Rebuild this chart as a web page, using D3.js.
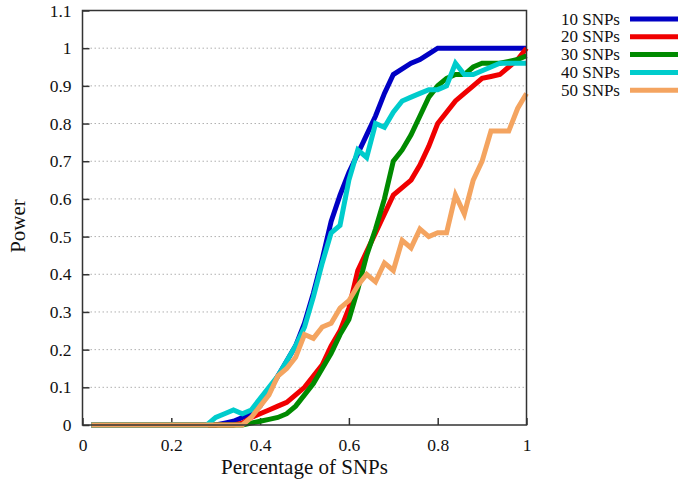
<!DOCTYPE html>
<html>
<head>
<meta charset="utf-8">
<script src="https://cdn.jsdelivr.net/npm/d3@7"></script>
<style>
  body { margin: 0; background: #fff; }
  svg { display: block; font-family: "Liberation Serif", "DejaVu Serif", serif; }
</style>
</head>
<body>
<script>
// x positions: fraction of SNPs
var pct = [0.02,0.04,0.06,0.08,0.10,0.12,0.14,0.16,0.18,0.20,
           0.22,0.24,0.26,0.28,0.30,0.32,0.34,0.36,0.38,0.40,
           0.42,0.44,0.46,0.48,0.50,0.52,0.54,0.56,0.58,0.60,
           0.62,0.64,0.66,0.68,0.70,0.72,0.74,0.76,0.78,0.80,
           0.82,0.84,0.86,0.88,0.90,0.92,0.94,0.96,0.98,1.00];

var snps10 = [0,0,0,0,0,0,0,0,0,0,0,0,0,0,0,
  0.005,0.01,0.02,0.03,0.05,0.09,0.13,0.17,0.21,0.27,0.35,0.44,0.54,0.61,0.67,
  0.72,0.77,0.82,0.88,0.93,0.945,0.96,0.97,0.985,
  1,1,1,1,1,1,1,1,1,1,1];
var snps20 = [0,0,0,0,0,0,0,0,0,0,0,0,0,0,0,0,0,
  0.005,0.02,0.03,0.04,0.05,0.06,0.08,0.10,0.13,0.16,0.21,0.25,0.31,
  0.41,0.46,0.51,0.56,0.61,0.63,0.65,0.69,0.74,0.80,
  0.83,0.86,0.88,0.90,0.92,0.925,0.93,0.95,0.97,1.0];
var snps30 = [0,0,0,0,0,0,0,0,0,0,0,0,0,0,0,0,0,0,
  0.005,0.01,0.015,0.02,0.03,0.05,0.08,0.11,0.15,0.19,0.24,0.28,
  0.36,0.45,0.52,0.60,0.70,0.73,0.77,0.82,0.87,0.90,
  0.92,0.93,0.93,0.95,0.96,0.96,0.96,0.965,0.97,0.98];
var snps40 = [0,0,0,0,0,0,0,0,0,0,0,0,0,0,
  0.02,0.03,0.04,0.03,0.04,0.07,0.10,0.13,0.17,0.21,0.26,0.34,0.43,0.51,0.53,0.65,
  0.73,0.71,0.80,0.79,0.83,0.86,0.87,0.88,0.89,0.89,
  0.90,0.96,0.93,0.93,0.94,0.95,0.96,0.96,0.96,0.96];
var snps50 = [0,0,0,0,0,0,0,0,0,0,0,0,0,0,0,0,0,0,
  0.02,0.05,0.08,0.13,0.15,0.18,0.24,0.23,0.26,0.27,0.31,0.33,
  0.37,0.40,0.38,0.43,0.41,0.49,0.47,0.52,0.50,0.51,
  0.51,0.61,0.56,0.65,0.70,0.78,0.78,0.78,0.84,0.88];

var seriesNames = ["10 SNPs", "20 SNPs", "30 SNPs", "40 SNPs", "50 SNPs"];
var seriesValues = [snps10, snps20, snps30, snps40, snps50];
var seriesColors = ["#0000c4", "#f00000", "#008a00", "#00cccc", "#f4a460"];

var xTicks = [0, 0.2, 0.4, 0.6, 0.8, 1];
var yTicks = [0, 0.1, 0.2, 0.3, 0.4, 0.5, 0.6, 0.7, 0.8, 0.9, 1, 1.1];

var width = 685, height = 486;

var x = d3.scaleLinear().domain([0, 1]).range([82.5, 526.5]);
var y = d3.scaleLinear().domain([0, 1.1]).range([425, 10.5]);

var svg = d3.select("body").append("svg")
  .attr("width", width)
  .attr("height", height);

// grid
svg.append("g")
  .selectAll("line")
  .data(yTicks.filter(function (d) { return d > 0 && d < 1.05; }))
  .enter().append("line")
  .attr("x1", x(0)).attr("x2", x(1))
  .attr("y1", function (d) { return y(d); })
  .attr("y2", function (d) { return y(d); })
  .attr("stroke", "#b0b0b0")
  .attr("stroke-width", 1)
  .attr("stroke-dasharray", "1.5,2.5");

// axes
var fmt = function (d) { return String(+d.toFixed(1)); };

var yAxis = svg.append("g")
  .attr("transform", "translate(" + x(0) + ",0)")
  .call(d3.axisLeft(y).tickValues(yTicks).tickFormat(fmt)
    .tickSizeInner(-7).tickSizeOuter(0).tickPadding(11));

var xAxis = svg.append("g")
  .attr("transform", "translate(0," + y(0) + ")")
  .call(d3.axisBottom(x).tickValues(xTicks).tickFormat(fmt)
    .tickSizeInner(-7).tickSizeOuter(0).tickPadding(14));

[xAxis, yAxis].forEach(function (a) {
  a.select(".domain").remove();
  a.selectAll(".tick line").attr("stroke", "#333").attr("stroke-width", 1.5);
  a.selectAll(".tick text")
    .attr("fill", "#111")
    .style("font-size", "17.5px")
    .style("font-family", "Liberation Serif, serif");
});

// lines
var line = d3.line()
  .x(function (d) { return x(d[0]); })
  .y(function (d) { return y(d[1]); });

svg.append("g")
  .selectAll("path")
  .data(seriesValues)
  .enter().append("path")
  .attr("d", function (vals) {
    return line(vals.map(function (v, i) { return [pct[i], v]; }));
  })
  .attr("fill", "none")
  .attr("stroke", function (d, i) { return seriesColors[i]; })
  .attr("stroke-width", 5)
  .attr("stroke-linejoin", "miter");

// frame
svg.append("rect")
  .attr("x", x(0)).attr("y", y(1.1))
  .attr("width", x(1) - x(0))
  .attr("height", y(0) - y(1.1))
  .attr("fill", "none")
  .attr("stroke", "#333")
  .attr("stroke-width", 1.5);

// axis titles
svg.append("text")
  .text("Percentage of SNPs")
  .attr("x", (x(0) + x(1)) / 2)
  .attr("y", 474)
  .attr("text-anchor", "middle")
  .style("font-size", "21px")
  .attr("fill", "#111");

svg.append("text")
  .text("Power")
  .attr("transform", "translate(25,226) rotate(-90)")
  .attr("text-anchor", "middle")
  .style("font-size", "21px")
  .attr("fill", "#111");

// legend
var legend = svg.append("g")
  .selectAll("g")
  .data(seriesNames)
  .enter().append("g")
  .attr("transform", function (d, i) { return "translate(0," + (19 + i * 17.8) + ")"; });

legend.append("text")
  .text(function (d) { return d; })
  .attr("x", 620)
  .attr("dy", "0.33em")
  .attr("text-anchor", "end")
  .style("font-size", "17px")
  .attr("fill", "#111");

legend.append("line")
  .attr("x1", 630).attr("x2", 678)
  .attr("y1", 0).attr("y2", 0)
  .attr("stroke", function (d, i) { return seriesColors[i]; })
  .attr("stroke-width", 5);
</script>
</body>
</html>
